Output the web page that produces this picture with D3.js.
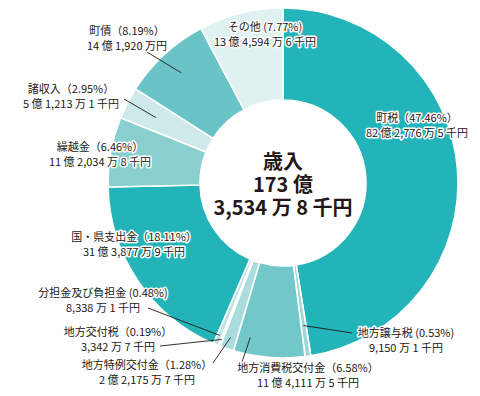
<!DOCTYPE html>
<html>
<head>
<meta charset="utf-8">
<script src="https://cdn.jsdelivr.net/npm/d3@7"></script>
<style>
  body { margin: 0; background: #fff; }
  svg { display: block; font-family: "Noto Sans CJK JP", "Noto Sans", sans-serif; }
</style>
</head>
<body>
<svg id="chart" width="480" height="396"></svg>
<script>
// data: revenue items, clockwise from 12 o'clock
const categories = ["町税", "地方譲与税", "地方消費税交付金", "地方特例交付金", "地方交付税",
  "分担金及び負担金", "国・県支出金", "繰越金", "諸収入", "町債", "その他"];
const shares = [47.46, 0.53, 6.58, 1.28, 0.19, 0.48, 18.11, 6.46, 2.95, 8.19, 7.77];
const amounts = ["82 億 2,776 万 5 千円", "9,150 万 1 千円", "11 億 4,111 万 5 千円", "2 億 2,175 万 7 千円",
  "3,342 万 7 千円", "8,338 万 1 千円", "31 億 3,877 万 9 千円", "11 億 2,034 万 8 千円",
  "5 億 1,213 万 1 千円", "14 億 1,920 万円", "13 億 4,594 万 6 千円"];
const totalLines = ["歳入", "173 億", "3,534 万 8 千円"];

// slice colours
const colors = ["#22b4b8", "#9fd7d8", "#72c7c9", "#a9dcdd", "#d2ecec",
  "#bde3e3", "#22b4b8", "#89cfd0", "#cde9e9", "#6ac4c7", "#e0f1f2"];

// label layout: centre of first line, full-width brackets or not, leader start (label side),
// leader end radius / position inside the slice
const layout = [
  { x: 417, y: 118, fw: true },
  { x: 406, y: 333, lx: 352, ly: 333, r: 144, t: 0.5 },
  { x: 308, y: 368, fw: true, lx: 242, ly: 362, r: 158, t: 0.81 },
  { x: 147, y: 365, fw: true, lx: 213, ly: 363, r: 163, t: 0.5 },
  { x: 118, y: 332, fw: true, lx: 160, ly: 346, r: 168, t: 0.5 },
  { x: 103, y: 293, lx: 148, ly: 308, r: 165, t: 0.5 },
  { x: 134, y: 237, fw: true },
  { x: 100, y: 147, fw: true },
  { x: 71, y: 89, fw: true, lx: 124, ly: 99, r: 143, t: 0.5 },
  { x: 127, y: 31, fw: true, lx: 147, ly: 52, r: 150, t: 0.5 },
  { x: 265, y: 27 }
];

const svg = d3.select("#chart");
const cx = 283, cy = 183;
const outerR = 175, innerR = 83;

const g = svg.append("g").attr("transform", `translate(${cx},${cy})`);

const pie = d3.pie().sort(null).value(d => d);
const arcs = pie(shares);
const arc = d3.arc().innerRadius(innerR).outerRadius(outerR);

g.selectAll("path")
  .data(arcs)
  .join("path")
  .attr("d", arc)
  .attr("fill", (d, i) => colors[i])
  .attr("stroke", "#fff")
  .attr("stroke-width", 1.6)
  .attr("stroke-linejoin", "round");

// centre total
svg.append("g")
  .selectAll("text")
  .data(totalLines)
  .join("text")
  .attr("x", cx)
  .attr("y", (d, i) => 160 + i * 23)
  .attr("text-anchor", "middle")
  .attr("dominant-baseline", "central")
  .style("font-size", "20px")
  .style("font-weight", "bold")
  .style("fill", "#231815")
  .text(d => d);

// leader lines
const leaders = svg.append("g");
arcs.forEach((d, i) => {
  const L = layout[i];
  if (L.lx === undefined) return;
  const a = d.startAngle + (d.endAngle - d.startAngle) * L.t;
  leaders.append("line")
    .attr("x1", L.lx)
    .attr("y1", L.ly)
    .attr("x2", cx + L.r * Math.sin(a))
    .attr("y2", cy - L.r * Math.cos(a))
    .attr("stroke", "#231815")
    .attr("stroke-width", 0.9);
});

// labels
const labels = svg.append("g")
  .selectAll("text")
  .data(categories)
  .join("text")
  .attr("text-anchor", "middle")
  .style("font-size", "11px")
  .style("fill", "#231815")
  .style("stroke", "#fff")
  .style("stroke-width", "3px")
  .style("stroke-linejoin", "round")
  .style("paint-order", "stroke");

labels.append("tspan")
  .attr("x", (d, i) => layout[i].x)
  .attr("y", (d, i) => layout[i].y + 4)
  .text((d, i) => layout[i].fw
    ? `${d}（${shares[i].toFixed(2)}%）`
    : `${d} (${shares[i].toFixed(2)}%)`);

labels.append("tspan")
  .attr("x", (d, i) => layout[i].x)
  .attr("y", (d, i) => layout[i].y + 18.5)
  .text((d, i) => amounts[i]);
</script>
</body>
</html>
